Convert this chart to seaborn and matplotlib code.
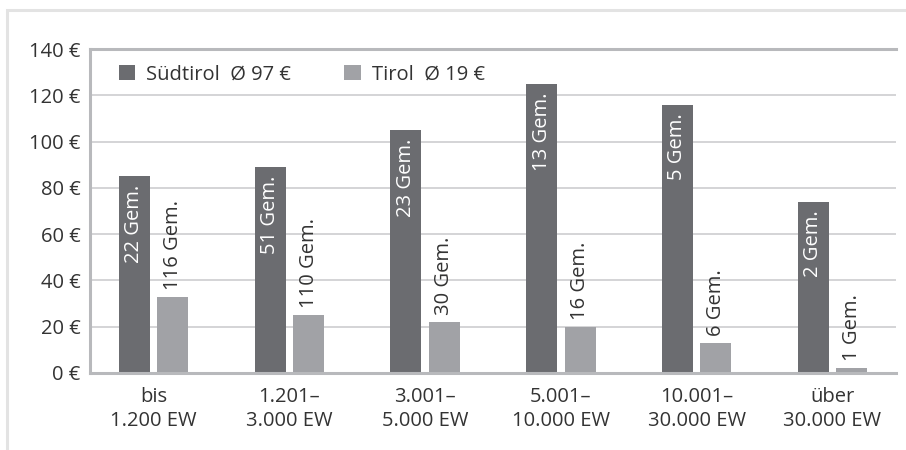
import matplotlib
matplotlib.use("Agg")
import matplotlib.pyplot as plt
from matplotlib.patches import Patch, Rectangle
import pandas as pd
import seaborn as sns

# Gemeinde size classes (inhabitants, EW)
size_classes = [
    "bis\n1.200 EW",
    "1.201–\n3.000 EW",
    "3.001–\n5.000 EW",
    "5.001–\n10.000 EW",
    "10.001–\n30.000 EW",
    "über\n30.000 EW",
]
regions = ["Südtirol", "Tirol"]
region_avg = [97, 19]

# Per-capita amount in euro per size class
suedtirol_values = [85, 89, 105, 125, 116, 74]
tirol_values = [33, 25, 22, 20, 13, 2]

# Number of municipalities (Gemeinden) per size class
suedtirol_counts = [22, 51, 23, 13, 5, 2]
tirol_counts = [116, 110, 30, 16, 6, 1]

y_ticks = [0, 20, 40, 60, 80, 100, 120, 140]

DARK = "#6b6c70"
LIGHT = "#a1a2a6"
TEXT = "#333333"
GRID = "#d4d4d6"
AXIS = "#b8b9bc"
FS = 14.5

sns.set_theme(style="white")
plt.rcParams["font.family"] = ["Open Sans", "DejaVu Sans"]
plt.rcParams["font.size"] = FS

df = pd.DataFrame({
    "Klasse": size_classes * 2,
    "Region": [regions[0]] * len(size_classes) + [regions[1]] * len(size_classes),
    "Wert": suedtirol_values + tirol_values,
})

fig = plt.figure(figsize=(9.06, 4.5), dpi=100)
fig.patch.set_facecolor("white")

# light outer frame
fig.add_artist(Rectangle((7 / 906, -0.1), 1.2, 1 - 10 / 450 + 0.1,
                         transform=fig.transFigure, fill=False,
                         edgecolor="#e3e3e3", linewidth=2.2, zorder=0))

ax = fig.add_axes([90 / 906, 1 - 373 / 450, (896 - 90) / 906, (373 - 49) / 450])
ax.set_facecolor("none")

sns.barplot(data=df, x="Klasse", y="Wert", hue="Region",
            palette=[DARK, LIGHT], saturation=1, width=0.566, gap=0.19,
            linewidth=0, legend=False, ax=ax, zorder=2)

ax.set_xlim(-0.468, 5.468)
ax.set_ylim(0, 140)
ax.set_yticks(y_ticks)
ax.set_yticklabels([f"{v} €" for v in y_ticks])
ax.set_xlabel("")
ax.set_ylabel("")

ax.yaxis.grid(True, color=GRID, linewidth=1.4, zorder=0)
ax.set_axisbelow(True)
ax.tick_params(axis="y", length=0, pad=7, labelsize=FS, labelcolor=TEXT)
ax.tick_params(axis="x", length=0, pad=10, labelsize=FS, labelcolor=TEXT)
for lbl in ax.get_xticklabels():
    lbl.set_linespacing(1.25)

for side in ["left", "bottom", "top"]:
    ax.spines[side].set_visible(True)
    ax.spines[side].set_color(AXIS)
    ax.spines[side].set_linewidth(2.2)
ax.spines["right"].set_visible(False)
ax.spines["bottom"].set_zorder(3)

# count labels: inside the Südtirol bars, above the Tirol bars
for container, counts, inside in zip(ax.containers,
                                     [suedtirol_counts, tirol_counts],
                                     [True, False]):
    for bar, n in zip(container, counts):
        x = bar.get_x() + bar.get_width() / 2
        h = bar.get_height()
        if inside:
            ax.annotate(f"{n} Gem.", (x, h), xytext=(0, -6),
                        textcoords="offset points", rotation=90,
                        ha="center", va="top", color="white", fontsize=FS,
                        zorder=4)
        else:
            ax.annotate(f"{n} Gem.", (x, h), xytext=(0, 5),
                        textcoords="offset points", rotation=90,
                        ha="center", va="bottom", color=TEXT, fontsize=FS,
                        zorder=4)

handles = [Patch(facecolor=c, edgecolor="none") for c in (DARK, LIGHT)]
labels = [f"{r}  Ø {a} €" for r, a in zip(regions, region_avg)]
ax.legend(handles, labels, ncol=2, loc="upper left",
          bbox_to_anchor=(0.036, 0.953), frameon=False, borderpad=0,
          borderaxespad=0, handlelength=0.8, handleheight=0.8,
          handletextpad=0.55, columnspacing=2.65, fontsize=FS,
          labelcolor=TEXT)

fig.savefig("out.png", dpi=100, facecolor="white")
